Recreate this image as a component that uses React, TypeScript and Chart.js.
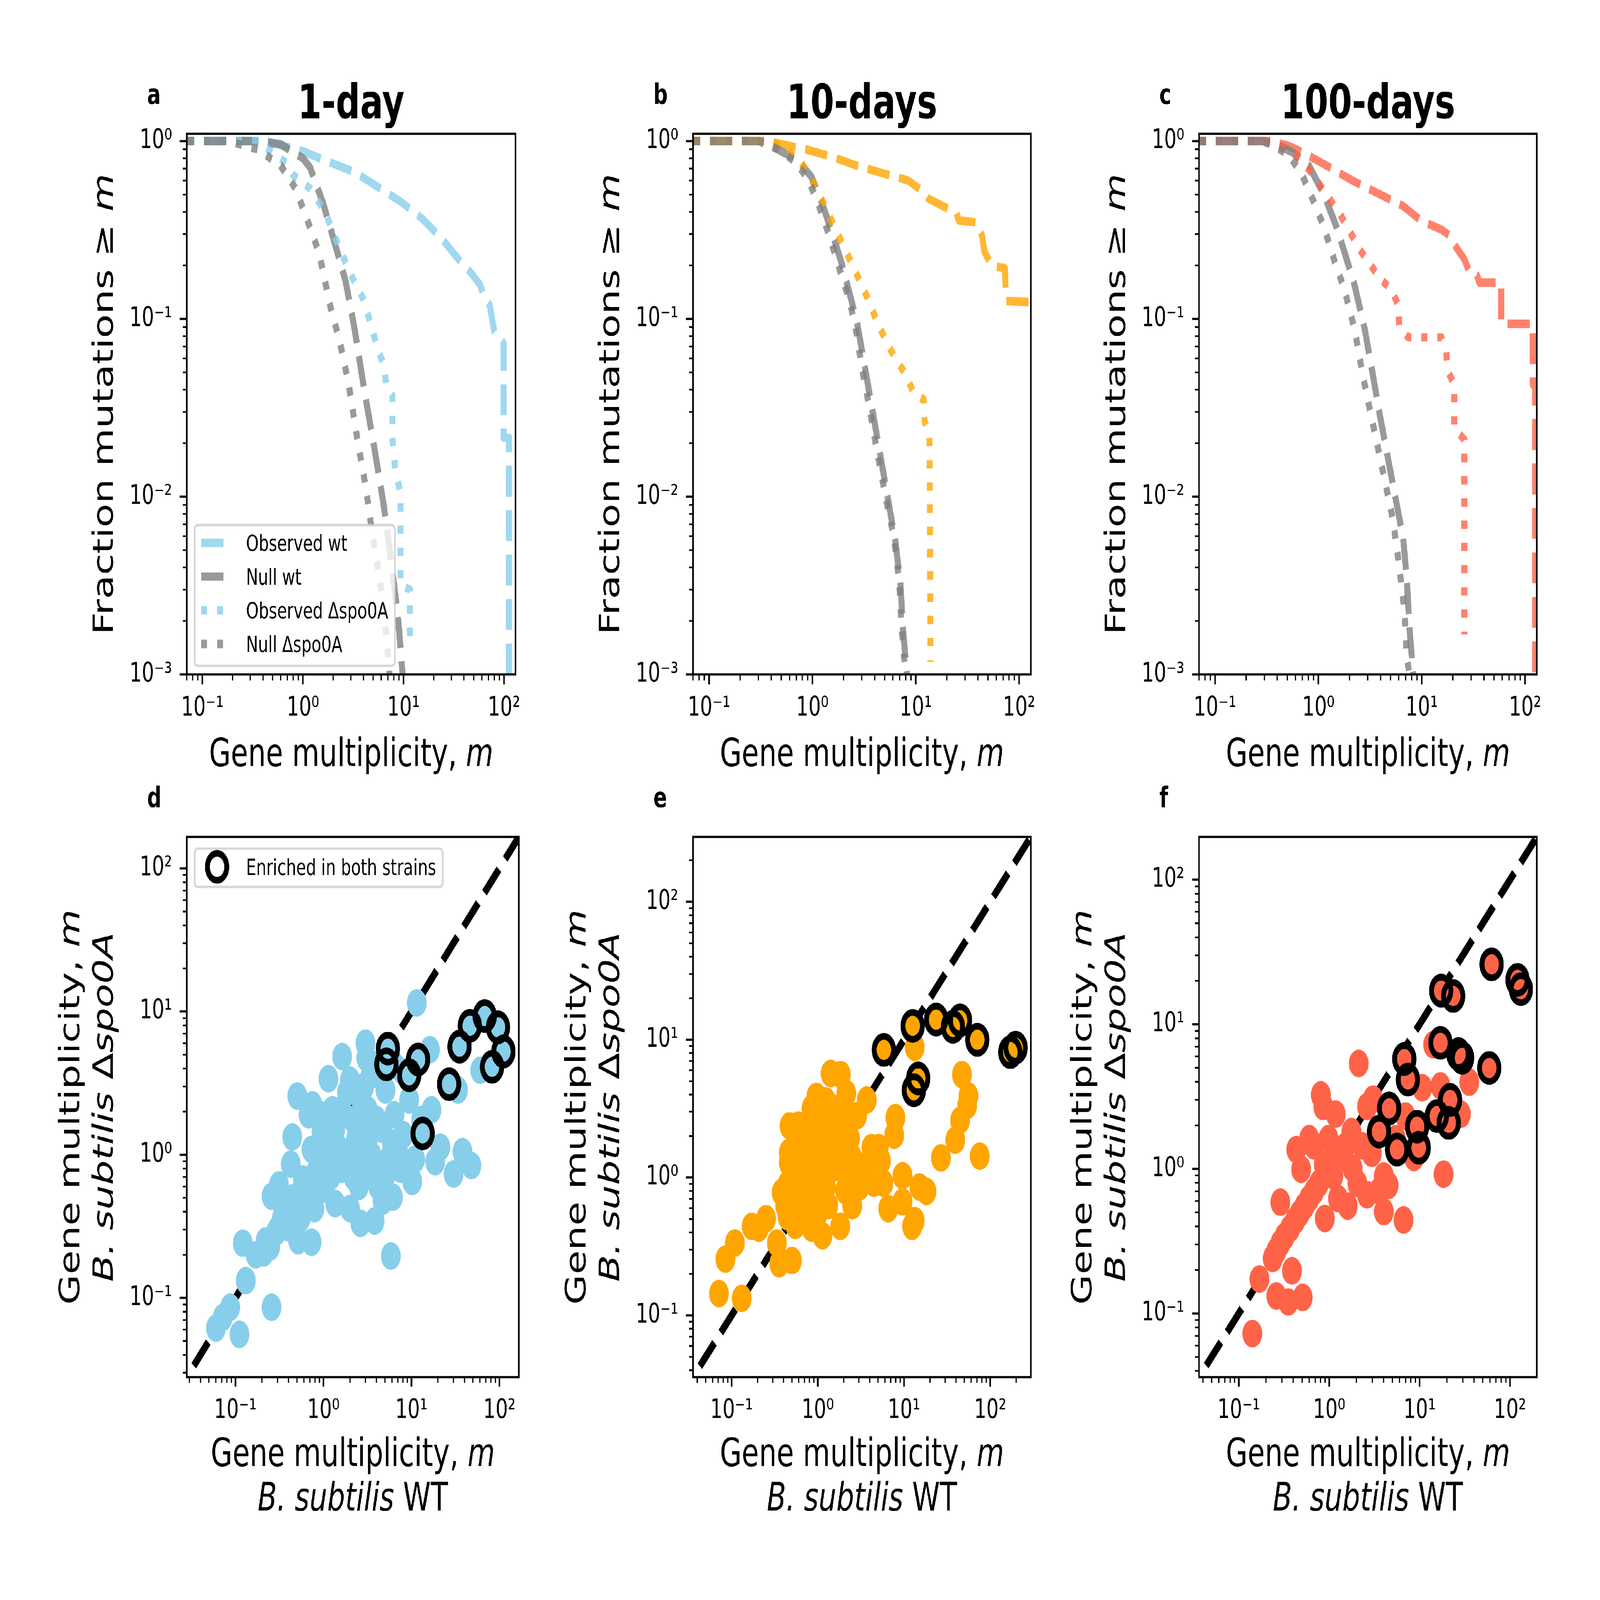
import { useEffect, useRef } from 'react';
import { Chart, registerables } from 'chart.js';

Chart.register(...registerables);

type Pt = [number, number];

// ---------- top row: fraction of mutations in genes with multiplicity >= m ----------
// 1-day
const obsWt1: Pt[] = [[0.05, 1], [0.43, 1], [1, 0.877], [1.66, 0.778], [3.24, 0.67], [6.34, 0.527], [9.5, 0.454], [15.2, 0.368], [24.3, 0.281], [34, 0.222], [47.5, 0.18], [58, 0.155], [64, 0.13], [72, 0.12], [80, 0.085], [99, 0.073], [99, 0.0215], [112, 0.0215], [112, 0.0005]];
const nullWt1: Pt[] = [[0.05, 1], [0.31, 1], [0.6, 0.96], [1, 0.8], [1.18, 0.71], [1.6, 0.44], [2.02, 0.28], [2.65, 0.164], [3.24, 0.09], [4.1, 0.039], [5.2, 0.018], [6.3, 0.0093], [7.7, 0.004], [8.9, 0.002], [9.8, 0.001], [10.5, 0.0005]];
const obsSpo1: Pt[] = [[0.05, 1], [0.35, 1], [0.69, 0.75], [0.79, 0.65], [1.18, 0.54], [1.66, 0.4], [2.31, 0.25], [3.03, 0.175], [3.96, 0.13], [4.84, 0.09], [5.54, 0.067], [6.34, 0.056], [6.78, 0.0415], [7.75, 0.037], [7.75, 0.0215], [8.28, 0.0142], [9.35, 0.0105], [9.35, 0.0032], [11.6, 0.003], [11.6, 0.00155]];
const nullSpo1: Pt[] = [[0.05, 1], [0.18, 1], [0.353, 0.9], [0.6, 0.73], [0.845, 0.54], [1.11, 0.357], [1.45, 0.235], [1.89, 0.115], [2.31, 0.0755], [2.83, 0.044], [3.46, 0.0215], [4.24, 0.0111], [4.84, 0.0065], [5.93, 0.0032], [6.78, 0.00164], [7.25, 0.001], [7.6, 0.0006]];

// 10-days
const obsWt10: Pt[] = [[0.05, 1], [0.352, 1], [0.495, 0.963], [0.873, 0.897], [1.54, 0.816], [2.71, 0.726], [4.78, 0.66], [8.43, 0.6], [11.2, 0.533], [13.3, 0.474], [19.8, 0.421], [24.8, 0.393], [26.2, 0.357], [39, 0.349], [43.7, 0.296], [46.2, 0.239], [54.8, 0.198], [72.8, 0.193], [74.9, 0.126], [200, 0.123]];
const nullWt10: Pt[] = [[0.05, 1], [0.35, 1], [0.495, 0.876], [0.695, 0.797], [0.978, 0.63], [1.23, 0.452], [1.54, 0.31], [1.93, 0.203], [2.29, 0.139], [2.71, 0.095], [3.21, 0.054], [3.81, 0.0306], [4.52, 0.0174], [5.36, 0.00986], [6.36, 0.0056], [7.12, 0.00318], [7.53, 0.0018], [8.2, 0.001], [8.6, 0.0006]];
const obsSpo10: Pt[] = [[0.05, 1], [0.4, 1], [0.555, 0.897], [0.779, 0.76], [1.09, 0.546], [1.37, 0.411], [1.72, 0.31], [2.16, 0.233], [2.71, 0.176], [3.4, 0.132], [4.27, 0.095], [5.36, 0.0717], [6.73, 0.0566], [7.97, 0.0491], [9.45, 0.0388], [11.9, 0.0353], [12.2, 0.0266], [13.6, 0.022], [13.9, 0.00118]];
const nullSpo10: Pt[] = [[0.05, 1], [0.3, 1], [0.468, 0.897], [0.695, 0.76], [0.924, 0.6], [1.16, 0.431], [1.45, 0.296], [1.82, 0.193], [2.29, 0.126], [2.64, 0.0866], [3.04, 0.0515], [3.6, 0.0306], [4.27, 0.0174], [5.21, 0.0094], [6.18, 0.00586], [6.92, 0.00333], [7.32, 0.0018], [7.97, 0.001], [8.4, 0.0006]];

// 100-days
const obsWt100: Pt[] = [[0.05, 1], [0.346, 1], [0.515, 0.94], [0.724, 0.856], [1.21, 0.726], [2.13, 0.6], [3.75, 0.509], [6.61, 0.431], [9.84, 0.357], [15.5, 0.318], [18.4, 0.296], [21.7, 0.251], [25.8, 0.217], [28.9, 0.184], [34.2, 0.176], [36.2, 0.16], [58.7, 0.16], [58.7, 0.0938], [119, 0.0938], [119, 0.0426], [125, 0.0426], [125, 0.0005]];
const nullWt100: Pt[] = [[0.05, 1], [0.3, 1], [0.388, 0.963], [0.577, 0.856], [0.811, 0.726], [1.14, 0.497], [1.51, 0.325], [1.9, 0.212], [2.25, 0.153], [2.82, 0.0866], [3.35, 0.0491], [3.97, 0.0279], [4.7, 0.0166], [5.57, 0.00986], [6.61, 0.00586], [7.2, 0.00333], [7.62, 0.0018], [8.29, 0.001], [8.7, 0.0006]];
const obsSpo100: Pt[] = [[0.05, 1], [0.3, 1], [0.366, 0.963], [0.577, 0.856], [0.811, 0.692], [1.02, 0.573], [1.28, 0.474], [1.6, 0.393], [2.01, 0.31], [2.52, 0.245], [3.16, 0.203], [3.97, 0.168], [5.12, 0.146], [5.9, 0.12], [6.07, 0.0908], [7.4, 0.0788], [15.5, 0.0788], [17.3, 0.0652], [17.8, 0.0515], [20.6, 0.0426], [20.6, 0.0242], [25.8, 0.021], [25.8, 0.00168]];
const nullSpo100: Pt[] = [[0.05, 1], [0.28, 1], [0.346, 0.963], [0.515, 0.836], [0.684, 0.66], [0.908, 0.452], [1.14, 0.325], [1.43, 0.212], [1.79, 0.146], [2.25, 0.0866], [2.67, 0.0491], [3.16, 0.0306], [3.75, 0.0191], [4.45, 0.0119], [5.27, 0.00743], [6.07, 0.00402], [6.8, 0.00228], [7.2, 0.00123], [7.62, 0.001], [8, 0.0006]];

// ---------- bottom row: gene multiplicity WT (x) vs delta spo0A (y) ----------
const genes1: Pt[] = [
  [0.06, 0.0616], [0.087, 0.086], [0.111, 0.0556], [0.0716, 0.073], [0.121, 0.241], [0.131, 0.132], [0.257, 0.086], [0.209, 0.206], [0.248, 0.227], [0.289, 0.288],
  [0.257, 0.513], [0.312, 0.616], [0.425, 0.86], [0.442, 1.33], [0.504, 2.57], [0.516, 0.251], [0.732, 0.245], [0.678, 1.9], [0.749, 2.23], [0.923, 1.9],
  [1.14, 3.4], [1.63, 4.85], [1.85, 2.72], [3.0, 6.02], [3.07, 4.74], [3.45, 3.59], [5.83, 0.196], [3.81, 0.345], [2.63, 0.332], [11.5, 11.5],
  [16.2, 5.42], [16.9, 2.06], [12.9, 1.76], [8.07, 1.38], [21.3, 1.13], [18.6, 0.895], [30.1, 0.734], [38, 1.05], [48, 0.84], [33.8, 2.83],
  [60.5, 3.89], [10.2, 0.651], [6.15, 0.505], [4.7, 0.474], [2.53, 0.601], [2.0, 0.421], [1.36, 0.456], [0.998, 0.578], [0.791, 0.421], [0.581, 0.678],
  [0.732, 1.09], [1.08, 1.28], [1.36, 1.5], [1.59, 2.06], [2.16, 1.76], [2.53, 2.61], [4.02, 1.76], [5.07, 2.83], [5.48, 0.93], [3.45, 0.794],
  [2.34, 1.01], [1.59, 0.794], [1.16, 0.86], [6.4, 4.21], [4.02, 4.21], [2.34, 1.28], [3.19, 1.28], [7.47, 0.794], [11.0, 0.93], [0.394, 0.456],
  [0.337, 0.359], [0.537, 0.493], [0.923, 0.678], [2.0, 3.32], [3.19, 2.06], [4.7, 1.5], [1.26, 2.06], [9.42, 2.41], [6.4, 1.9], [0.17, 0.2],
  [0.22, 0.25], [0.3, 0.3], [0.35, 0.4], [0.45, 0.5], [0.6, 0.55], [0.7, 0.6], [0.85, 0.8], [1.2, 0.7], [1.8, 0.9], [2.2, 0.7],
  [2.8, 0.9], [3.5, 1.0], [4.2, 0.6], [5.0, 0.7], [6.0, 1.2], [7.0, 1.1], [8.0, 3.8], [1.5, 1.1], [2.6, 1.5], [3.0, 1.9],
  [1.0, 1.0], [0.95, 1.45], [2.9, 3.0], [0.55, 0.36], [0.39, 0.31],
  [5.4, 5.51], [5.19, 4.28], [11.9, 4.63], [9.42, 3.59], [13.4, 1.41], [26.8, 3.11], [35.2, 5.69], [46.1, 7.95], [68, 9.3], [96.2, 7.76], [111, 5.26], [82.4, 4.11],
];
const enriched1: Pt[] = [[5.4, 5.51], [5.19, 4.28], [11.9, 4.63], [9.42, 3.59], [13.4, 1.41], [26.8, 3.11], [35.2, 5.69], [46.1, 7.95], [68, 9.3], [96.2, 7.76], [111, 5.26], [82.4, 4.11]];

const genes10: Pt[] = [
  [0.0713, 0.144], [0.131, 0.133], [0.0847, 0.256], [0.109, 0.335], [0.171, 0.443], [0.207, 0.43], [0.251, 0.503], [0.357, 0.237], [0.501, 0.25], [0.335, 0.335],
  [0.381, 0.779], [0.461, 1.28], [0.461, 1.52], [0.47, 2.37], [0.596, 2.4], [0.962, 3.88], [1.41, 5.69], [1.85, 5.58], [2.14, 4.08], [3.69, 3.65],
  [2.85, 2.81], [7.94, 2.72], [7.69, 2.03], [4.19, 1.65], [5.08, 1.65], [5.41, 1.32], [2.07, 1.1], [2.51, 0.626], [1.82, 0.443], [1.13, 0.379],
  [0.847, 0.43], [6.56, 0.595], [12.4, 0.443], [13.3, 0.487], [9.62, 1.03], [15.1, 0.855], [18.2, 0.794], [9.62, 0.667], [4.47, 0.91], [13.3, 8.81],
  [47, 5.58], [55.9, 3.91], [54.1, 3.34], [44.7, 2.6], [39.3, 1.87], [26.8, 1.39], [75.5, 1.43], [0.794, 1.93], [1.09, 2.33], [1.51, 2.64],
  [1.24, 1.7], [0.656, 1.17], [0.847, 0.91], [1.24, 0.855], [1.51, 1.17], [2.07, 1.7], [3.04, 1.17], [0.577, 0.626], [0.745, 0.552], [0.447, 0.519],
  [1.32, 0.626], [2.07, 0.804], [3.04, 0.855], [0.847, 3.18], [1.24, 3.6], [1.82, 3.18], [2.36, 1.93], [3.69, 1.24], [5.77, 0.91], [1.09, 1.24],
  [0.656, 1.7], [0.508, 0.969], [0.45, 0.9], [0.55, 1.4], [0.7, 0.8], [0.9, 1.5], [1.1, 0.7], [1.4, 1.9], [1.7, 1.4], [2.5, 1.4],
  [0.6, 2.0], [0.8, 2.6], [1.5, 3.2], [1.9, 2.4], [2.8, 1.0], [0.42, 0.62], [0.55, 0.45], [1.0, 0.55],
  [5.84, 8.43], [12.6, 12.6], [14.6, 5.24], [13.0, 4.3], [23.6, 14.0], [36.9, 12.4], [44.7, 13.8], [70.8, 9.98], [171, 8.12], [197, 8.75],
];
const enriched10: Pt[] = [[5.84, 8.43], [12.6, 12.6], [14.6, 5.24], [13.0, 4.3], [23.6, 14.0], [36.9, 12.4], [44.7, 13.8], [70.8, 9.98], [171, 8.12], [197, 8.75]];

const genes100: Pt[] = [
  [0.141, 0.0726], [0.169, 0.173], [0.387, 0.197], [0.26, 0.132], [0.353, 0.12], [0.509, 0.129], [0.288, 0.588], [0.237, 0.24], [0.288, 0.305], [0.368, 0.386],
  [0.471, 0.491], [0.601, 0.624], [0.769, 0.792], [0.895, 0.454], [0.432, 1.36], [0.489, 0.994], [0.807, 3.25], [0.858, 2.7], [1.18, 2.39], [2.12, 5.36],
  [2.62, 2.7], [3.05, 3.04], [1.76, 1.81], [0.679, 1.44], [0.982, 1.62], [1.33, 1.2], [1.11, 0.893], [1.25, 0.624], [1.6, 0.553], [2.62, 0.662],
  [3.56, 0.703], [4.02, 0.506], [4.54, 0.769], [4.02, 0.893], [6.64, 0.443], [18.4, 0.92], [10.7, 3.64], [17, 3.75], [35.4, 3.98], [14.1, 7.23],
  [28.6, 2.39], [8.65, 1.2], [6.98, 2.32], [2.96, 1.28], [1.81, 1.01], [2.32, 1.44], [1.51, 1.44], [0.869, 1.07], [0.601, 1.62], [2.05, 0.792],
  [5.46, 1.62], [14.6, 2.32], [0.26, 0.27], [0.32, 0.34], [0.42, 0.44], [0.53, 0.55], [0.68, 0.7], [0.87, 0.9], [1.0, 1.0], [1.2, 1.15],
  [6.77, 5.76], [7.42, 4.15], [4.6, 2.62], [3.56, 1.81], [5.63, 1.36], [9.37, 1.96], [9.78, 1.4], [17, 7.45], [26.9, 6.22], [29.5, 5.86],
  [17.3, 17.1], [23.5, 15.7], [62.6, 26], [121, 20.3], [132, 17.5], [58.9, 4.99], [15.5, 2.32], [21.7, 3.0], [21, 2.08],
];
const enriched100: Pt[] = [[6.77, 5.76], [7.42, 4.15], [4.6, 2.62], [3.56, 1.81], [5.63, 1.36], [9.37, 1.96], [9.78, 1.4], [17, 7.45], [26.9, 6.22], [29.5, 5.86], [17.3, 17.1], [23.5, 15.7], [62.6, 26], [121, 20.3], [132, 17.5], [58.9, 4.99], [15.5, 2.32], [21.7, 3.0], [21, 2.08]];

// axis limits
const curveXLim: Pt = [0.07, 130];
const curveYLim: Pt = [0.001, 1.1];
const scatterLim1: Pt = [0.028, 166];
const scatterLim10: Pt = [0.0357, 296];
const scatterLim100: Pt = [0.0363, 198];

const curveLabels = ['Observed wt', 'Null wt', 'Observed \u0394spo0A', 'Null \u0394spo0A'];

const SKY = '#87ceeb';
const ORANGE = '#ffa500';
const TOMATO = '#ff6347';
const GREY = '#808080';

const FONT = '"DejaVu Sans"';
const font = (px: number, style = '') => `${style} ${px}px ${FONT}`.trim();

const DASH = [92, 40];
const DOT = [25, 41];
const LW = 25;

// figure is laid out on a 6612 x 4751 sheet
const FIG_W = 6612;
const FIG_H = 4751;
const COL_X = [0, 2204, 4408];
const CELL_W = 2204;
const ROW_Y = [0, 2240];
const ROW_H = [2420, 2511];
const AX_L = [772, 2864, 4955];
const AX_W = 1396;
const AX_T = [397, 2485];
const AX_B = [2003, 4089];
const Y_AXIS_W = 320;
const X_AXIS_H = 230;

function rgba(hex: string, a: number) {
  const n = parseInt(hex.slice(1), 16);
  return `rgba(${(n >> 16) & 255}, ${(n >> 8) & 255}, ${n & 255}, ${a})`;
}

const SUP: Record<string, string> = { '-': '\u207b', '0': '\u2070', '1': '\u00b9', '2': '\u00b2', '3': '\u00b3' };
function decadeLabel(v: number) {
  const e = Math.round(Math.log10(v));
  return '10' + String(e).split('').map((c) => SUP[c]).join('');
}

function decades(min: number, max: number) {
  const out: number[] = [];
  for (let e = Math.floor(Math.log10(min)); e <= Math.ceil(Math.log10(max)); e++) {
    const v = Math.pow(10, e);
    if (v >= min * 0.9999 && v <= max * 1.0001) out.push(v);
  }
  return out;
}

function logAxis(axis: 'x' | 'y', lim: Pt) {
  return {
    type: 'logarithmic',
    position: axis === 'x' ? 'bottom' : 'left',
    min: lim[0],
    max: lim[1],
    grid: { display: false, drawTicks: false },
    border: { display: false },
    afterBuildTicks: (s: any) => {
      s.ticks = decades(lim[0], lim[1]).map((v) => ({ value: v }));
    },
    afterFit: (s: any) => {
      if (axis === 'x') s.height = X_AXIS_H;
      else s.width = Y_AXIS_W;
    },
    ticks: {
      autoSkip: false,
      maxRotation: 0,
      minRotation: 0,
      padding: axis === 'x' ? 53 : 61,
      color: '#000',
      font: { family: 'DejaVu Sans', size: 80 },
      callback: (v: any) => decadeLabel(Number(v)),
    },
  };
}

type Run = [string, string];

function drawRuns(ctx: CanvasRenderingContext2D, runs: Run[], x: number, y: number, center = true) {
  const widths = runs.map(([t, f]) => {
    ctx.font = f;
    return ctx.measureText(t).width;
  });
  const total = widths.reduce((a, b) => a + b, 0);
  let cx = center ? x - total / 2 : x;
  ctx.textAlign = 'left';
  ctx.textBaseline = 'alphabetic';
  runs.forEach(([t, f], i) => {
    ctx.font = f;
    ctx.fillText(t, cx, y);
    cx += widths[i];
  });
}

function drawRunsUp(ctx: CanvasRenderingContext2D, runs: Run[], x: number, y: number) {
  ctx.save();
  ctx.translate(x, y);
  ctx.rotate(-Math.PI / 2);
  drawRuns(ctx, runs, 0, 0);
  ctx.restore();
}

function drawLogTicks(ctx: CanvasRenderingContext2D, scale: any, axis: 'x' | 'y', a: any) {
  const min = scale.min;
  const max = scale.max;
  for (let e = Math.floor(Math.log10(min)); e <= Math.ceil(Math.log10(max)); e++) {
    for (let k = 1; k < 10; k++) {
      const v = k * Math.pow(10, e);
      if (v < min * 0.9999 || v > max * 1.0001) continue;
      const len = k === 1 ? 29 : 17;
      ctx.lineWidth = k === 1 ? 6.7 : 5;
      const p = scale.getPixelForValue(v);
      ctx.beginPath();
      if (axis === 'x') {
        ctx.moveTo(p, a.bottom);
        ctx.lineTo(p, a.bottom + len);
      } else {
        ctx.moveTo(a.left, p);
        ctx.lineTo(a.left - len, p);
      }
      ctx.stroke();
    }
  }
}

function legendFrame(ctx: CanvasRenderingContext2D, x: number, y: number, w: number, h: number) {
  const r = 13;
  ctx.beginPath();
  ctx.moveTo(x + r, y);
  ctx.arcTo(x + w, y, x + w, y + h, r);
  ctx.arcTo(x + w, y + h, x, y + h, r);
  ctx.arcTo(x, y + h, x, y, r);
  ctx.arcTo(x, y, x + w, y, r);
  ctx.closePath();
  ctx.fillStyle = 'rgba(255,255,255,0.8)';
  ctx.fill();
  ctx.strokeStyle = 'rgba(204,204,204,0.8)';
  ctx.lineWidth = 7;
  ctx.stroke();
}

interface PanelSpec {
  kind: 'curve' | 'scatter';
  col: number;
  row: number;
  letter: string;
  title?: string;
  color: string;
  curves?: Pt[][];
  genes?: Pt[];
  enriched?: Pt[];
  lim?: Pt;
  legend: boolean;
}

const panels: PanelSpec[] = [
  { kind: 'curve', col: 0, row: 0, letter: 'a', title: '1-day', color: SKY, curves: [obsWt1, nullWt1, obsSpo1, nullSpo1], legend: true },
  { kind: 'curve', col: 1, row: 0, letter: 'b', title: '10-days', color: ORANGE, curves: [obsWt10, nullWt10, obsSpo10, nullSpo10], legend: false },
  { kind: 'curve', col: 2, row: 0, letter: 'c', title: '100-days', color: TOMATO, curves: [obsWt100, nullWt100, obsSpo100, nullSpo100], legend: false },
  { kind: 'scatter', col: 0, row: 1, letter: 'd', color: SKY, genes: genes1, enriched: enriched1, lim: scatterLim1, legend: true },
  { kind: 'scatter', col: 1, row: 1, letter: 'e', color: ORANGE, genes: genes10, enriched: enriched10, lim: scatterLim10, legend: false },
  { kind: 'scatter', col: 2, row: 1, letter: 'f', color: TOMATO, genes: genes100, enriched: enriched100, lim: scatterLim100, legend: false },
];

function cell(p: PanelSpec) {
  const x = COL_X[p.col];
  const y = ROW_Y[p.row];
  const w = CELL_W;
  const h = ROW_H[p.row];
  const L = AX_L[p.col];
  const R = L + AX_W;
  const T = AX_T[p.row];
  const B = AX_B[p.row];
  return {
    x, y, w, h,
    pad: { left: L - x - Y_AXIS_W, right: x + w - R, top: T - y, bottom: y + h - B - X_AXIS_H },
  };
}

function buildConfig(p: PanelSpec): any {
  const g = cell(p);
  const toXY = (pts: Pt[]) => pts.map(([x, y]) => ({ x, y }));
  const lineStyles = [
    { color: rgba(p.color, 0.8), dash: DASH },
    { color: rgba(GREY, 0.8), dash: DASH },
    { color: rgba(p.color, 0.8), dash: DOT },
    { color: rgba(GREY, 0.8), dash: DOT },
  ];

  let datasets: any[];
  let xLim: Pt;
  let yLim: Pt;
  if (p.kind === 'curve') {
    xLim = curveXLim;
    yLim = curveYLim;
    datasets = (p.curves || []).map((pts, i) => ({
      label: curveLabels[i],
      data: toXY(pts),
      showLine: true,
      borderColor: lineStyles[i].color,
      borderWidth: LW,
      borderDash: lineStyles[i].dash,
      borderCapStyle: 'butt',
      borderJoinStyle: 'round',
      pointRadius: 0,
      pointHoverRadius: 0,
      tension: 0,
      fill: false,
      clip: 0,
      order: 3 - i,
    }));
  } else {
    const lim = p.lim as Pt;
    xLim = lim;
    yLim = lim;
    datasets = [
      {
        label: 'Enriched in both strains',
        data: toXY(p.enriched || []),
        pointRadius: 40,
        pointHoverRadius: 40,
        pointBorderWidth: 20,
        pointBorderColor: '#000',
        pointBackgroundColor: 'rgba(0,0,0,0)',
        clip: 0,
        order: 0,
      },
      {
        label: 'genes',
        data: toXY(p.genes || []),
        pointRadius: 41,
        pointHoverRadius: 41,
        pointBorderWidth: 0,
        pointBackgroundColor: p.color,
        pointBorderColor: p.color,
        clip: 0,
        order: 1,
      },
      {
        label: 'y = x',
        data: [{ x: lim[0] * 1.2, y: lim[0] * 1.2 }, { x: lim[1] * 2, y: lim[1] * 2 }],
        showLine: true,
        borderColor: '#000',
        borderWidth: LW,
        borderDash: DASH,
        borderCapStyle: 'butt',
        pointRadius: 0,
        pointHoverRadius: 0,
        clip: 0,
        order: 2,
      },
    ];
  }

  const decor = {
    id: 'decor',
    afterDraw(chart: any) {
      const { ctx, chartArea: a, scales } = chart;
      const cx = (a.left + a.right) / 2;
      const cy = (a.top + a.bottom) / 2;
      ctx.save();
      ctx.fillStyle = '#000';
      ctx.strokeStyle = '#000';
      ctx.lineWidth = 6.7;
      ctx.strokeRect(a.left, a.top, a.right - a.left, a.bottom - a.top);
      drawLogTicks(ctx, scales.x, 'x', a);
      drawLogTicks(ctx, scales.y, 'y', a);

      // panel letter and title
      ctx.fillStyle = '#000';
      drawRuns(ctx, [[p.letter, font(83, 'bold')]], a.left - 164, a.top - 88, false);
      if (p.title) drawRuns(ctx, [[p.title, font(141, 'bold')]], cx, a.top - 46);

      if (p.kind === 'curve') {
        drawRuns(ctx, [['Gene multiplicity, ', font(116)], ['m', font(116, 'italic')]], cx, a.bottom + 272);
        drawRunsUp(ctx, [['Fraction mutations ', font(116)], ['\u2265', font(116)], [' ', font(116)], ['m', font(116, 'italic')]], a.left - 306, cy);
      } else {
        drawRuns(ctx, [['Gene multiplicity, ', font(116)], ['m', font(116, 'italic')]], cx, a.bottom + 264);
        drawRuns(ctx, [['B. subtilis', font(116, 'italic')], [' WT', font(116)]], cx, a.bottom + 396);
        drawRunsUp(ctx, [['Gene multiplicity, ', font(116)], ['m', font(116, 'italic')]], a.left - 445, cy);
        drawRunsUp(ctx, [['B. subtilis ', font(116, 'italic')], ['\u0394', font(116)], ['spo0A', font(116, 'italic')]], a.left - 306, cy);
      }

      if (p.legend && p.kind === 'curve') {
        ctx.font = font(66);
        const tw = Math.max(...curveLabels.map((t) => ctx.measureText(t).width));
        const w = 27 + 133 + 53 + tw + 27;
        const h = 418;
        const x0 = a.left + 32;
        const y0 = a.bottom - 26 - h;
        legendFrame(ctx, x0, y0, w, h);
        curveLabels.forEach((t, i) => {
          const ry = y0 + 53 + i * 100;
          ctx.save();
          ctx.strokeStyle = lineStyles[i].color;
          ctx.lineWidth = LW;
          ctx.lineCap = 'butt';
          ctx.setLineDash(lineStyles[i].dash);
          ctx.beginPath();
          ctx.moveTo(x0 + 27, ry);
          ctx.lineTo(x0 + 27 + 133, ry);
          ctx.stroke();
          ctx.restore();
          ctx.fillStyle = '#000';
          drawRuns(ctx, [[t, font(66)]], x0 + 27 + 133 + 53, ry + 24, false);
        });
      }
      if (p.legend && p.kind === 'scatter') {
        const label = 'Enriched in both strains';
        ctx.font = font(66);
        const w = 27 + 133 + 53 + ctx.measureText(label).width + 27;
        const h = 114;
        const x0 = a.left + 32;
        const y0 = a.top + 35;
        legendFrame(ctx, x0, y0, w, h);
        const ry = y0 + 54;
        ctx.beginPath();
        ctx.arc(x0 + 27 + 66, ry, 40, 0, Math.PI * 2);
        ctx.strokeStyle = '#000';
        ctx.lineWidth = 20;
        ctx.stroke();
        ctx.fillStyle = '#000';
        drawRuns(ctx, [[label, font(66)]], x0 + 27 + 133 + 53, ry + 24, false);
      }
      ctx.restore();
    },
  };

  return {
    type: 'scatter',
    data: { datasets },
    options: {
      responsive: false,
      animation: false,
      devicePixelRatio: 1,
      events: [],
      layout: { padding: g.pad },
      plugins: {
        legend: { display: false },
        title: { display: false },
        tooltip: { enabled: false },
      },
      scales: {
        x: logAxis('x', xLim),
        y: logAxis('y', yLim),
      },
    },
    plugins: [decor],
  };
}

function PanelCanvas({ spec }: { spec: PanelSpec }) {
  const ref = useRef<HTMLCanvasElement>(null);
  const g = cell(spec);

  useEffect(() => {
    if (!ref.current) return;
    const chart = new Chart(ref.current, buildConfig(spec));
    return () => {
      chart.destroy();
    };
  }, [spec]);

  return (
    <canvas
      ref={ref}
      width={g.w}
      height={g.h}
      style={{ position: 'absolute', left: g.x, top: g.y, width: g.w, height: g.h }}
    />
  );
}

export default function App() {
  // the browser may hand us a smaller viewport than the figure; fit the sheet into it
  const vw = window.innerWidth || FIG_W;
  const vh = window.innerHeight || FIG_H;
  const sx = Math.min(1, vw / FIG_W);
  const sy = Math.min(1, vh / FIG_H);

  return (
    <div style={{ position: 'fixed', left: 0, top: 0, width: vw, height: vh, overflow: 'hidden', background: '#fff' }}>
      <div
        style={{
          position: 'absolute',
          left: 0,
          top: 0,
          width: FIG_W,
          height: FIG_H,
          background: '#fff',
          transform: `scale(${sx}, ${sy})`,
          transformOrigin: '0 0',
        }}
      >
        {panels.map((p) => (
          <PanelCanvas key={p.letter} spec={p} />
        ))}
      </div>
    </div>
  );
}
